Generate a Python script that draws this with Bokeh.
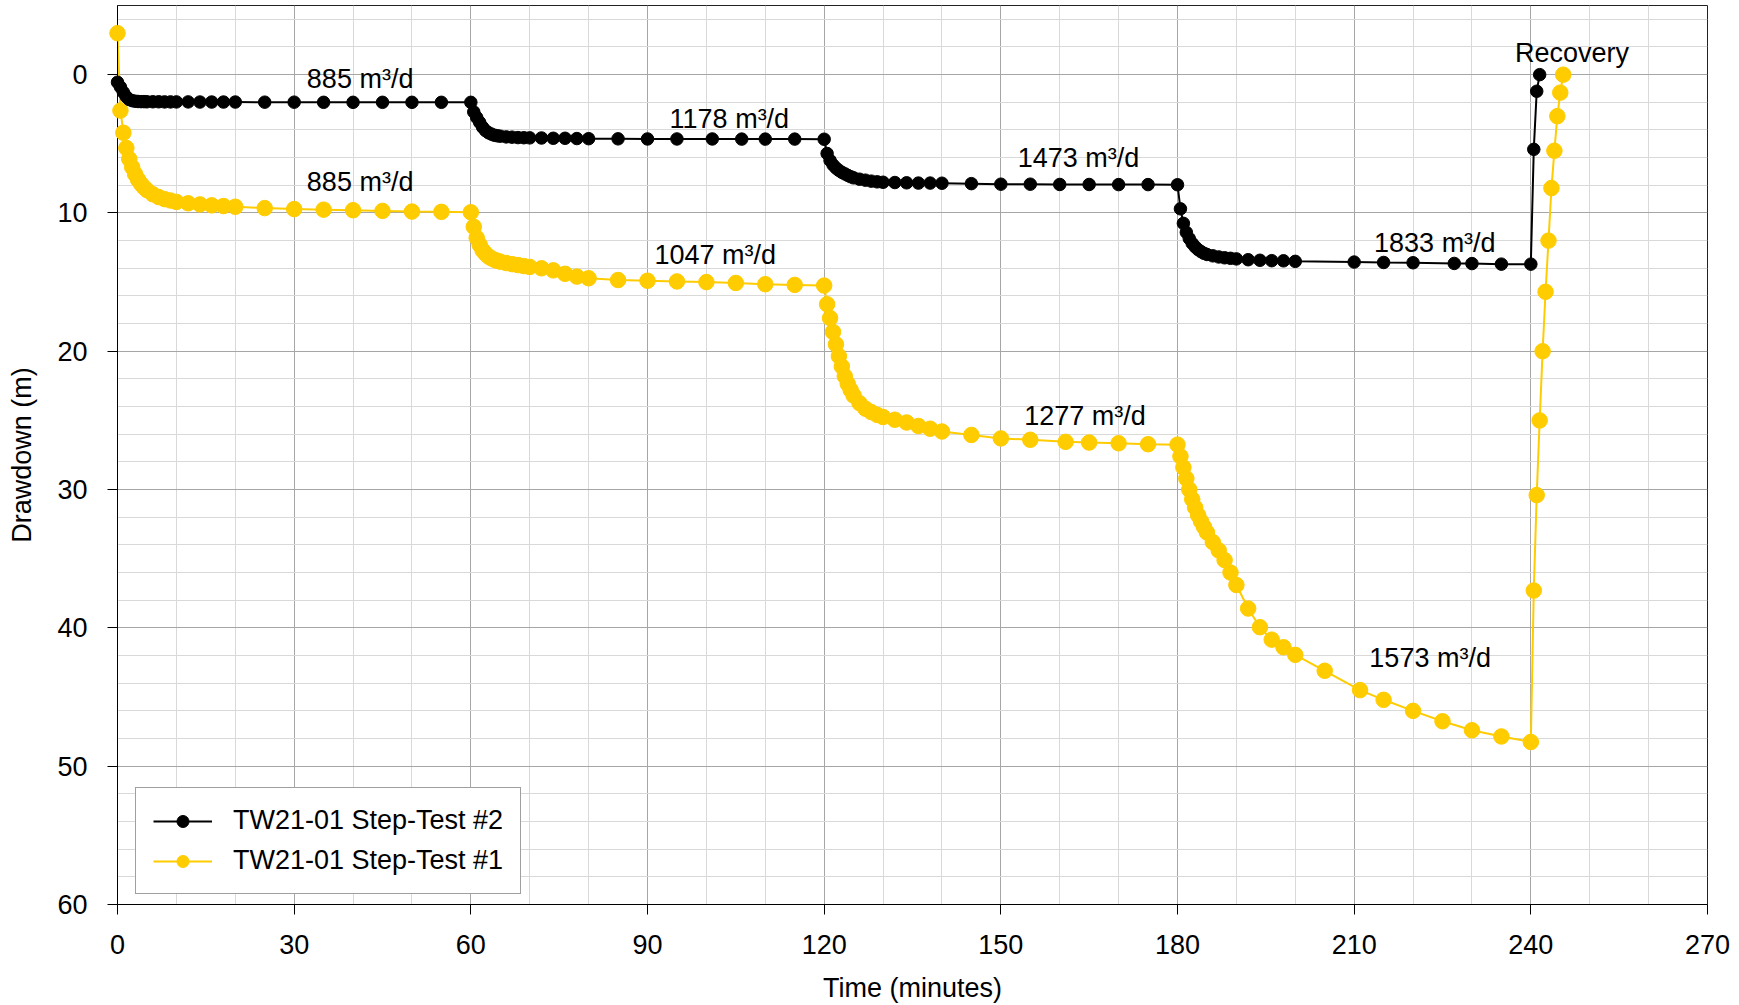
from bokeh.plotting import figure
from bokeh.models import Range1d, FixedTicker, Legend, LegendItem
from bokeh.core.properties import value
from bokeh.embed import file_html
from bokeh.resources import INLINE

FONT = "Liberation Sans"
FSIZE = "27px"

# ---- TW21-01 Step-Test #2 (black) : time (min) and drawdown (m) ----
t_test2 = [0, 0.5, 1, 1.5, 2, 2.5, 3, 3.5, 4, 4.5, 5, 6, 7, 8, 9, 10, 12, 14, 16, 18, 20,
           25, 30, 35, 40, 45, 50, 55, 60,
           60.5, 61, 61.5, 62, 62.5, 63, 63.5, 64, 64.5, 65, 66, 67, 68, 69, 70, 72, 74, 76, 78, 80,
           85, 90, 95, 101, 106, 110, 115, 120,
           120.5, 121, 121.5, 122, 122.5, 123, 123.5, 124, 124.5, 125, 126, 127, 128, 129, 130,
           132, 134, 136, 138, 140, 145, 150, 155, 160, 165, 170, 175, 180,
           180.5, 181, 181.5, 182, 182.5, 183, 183.5, 184, 184.5, 185, 186, 187, 188, 189, 190,
           192, 194, 196, 198, 200, 210, 215, 220, 227, 230, 235, 240,
           240.5, 241, 241.5]
dd_test2 = [0.55, 0.9, 1.28, 1.6, 1.8, 1.88, 1.92, 1.94, 1.95, 1.95, 1.96, 1.96, 1.96, 1.97, 1.97, 1.97,
            1.97, 1.98, 1.98, 1.98, 1.98, 1.99, 1.99, 2.0, 2.0, 2.0, 2.0, 2.0, 2.0,
            2.7, 3.1, 3.45, 3.8, 4.05, 4.2, 4.3, 4.38, 4.42, 4.45, 4.5, 4.52, 4.55, 4.56, 4.57,
            4.58, 4.6, 4.6, 4.62, 4.63, 4.64, 4.65, 4.65, 4.65, 4.66, 4.66, 4.66, 4.67,
            5.7, 6.2, 6.52, 6.75, 6.92, 7.06, 7.17, 7.28, 7.38, 7.46, 7.56, 7.63, 7.7, 7.75, 7.78,
            7.8, 7.82, 7.84, 7.84, 7.85, 7.88, 7.92, 7.92, 7.94, 7.94, 7.95, 7.95, 7.96,
            9.7, 10.75, 11.4, 11.85, 12.2, 12.45, 12.65, 12.8, 12.92, 13.0, 13.1, 13.18, 13.24, 13.28, 13.32,
            13.38, 13.42, 13.45, 13.46, 13.5, 13.55, 13.58, 13.6, 13.65, 13.66, 13.7, 13.7,
            5.4, 1.2, 0.0]

# ---- TW21-01 Step-Test #1 (gold) ----
t_test1 = [0, 0.5, 1, 1.5, 2, 2.5, 3, 3.5, 4, 4.5, 5, 6, 7, 8, 9, 10, 12, 14, 16, 18, 20,
           25, 30, 35, 40, 45, 50, 55, 60,
           60.5, 61, 61.5, 62, 62.5, 63, 63.5, 64, 64.5, 65, 66, 67, 68, 69, 70, 72, 74, 76, 78, 80,
           85, 90, 95, 100, 105, 110, 115, 120,
           120.5, 121, 121.5, 122, 122.5, 123, 123.5, 124, 124.5, 125, 126, 127, 128, 129, 130,
           132, 134, 136, 138, 140, 145, 150, 155, 161, 165, 170, 175, 180,
           180.5, 181, 181.5, 182, 182.5, 183, 183.5, 184, 184.5, 185, 186, 187, 188, 189, 190,
           192, 194, 196, 198, 200, 205, 211, 215, 220, 225, 230, 235, 240,
           240.5, 241, 241.5, 242, 242.5, 243, 243.5, 244, 244.5, 245, 245.5]
dd_test1 = [-3.0, 2.6, 4.2, 5.3, 6.1, 6.7, 7.2, 7.6, 7.9, 8.15, 8.35, 8.65, 8.85, 9.0, 9.1, 9.2,
            9.3, 9.38, 9.45, 9.5, 9.55, 9.65, 9.72, 9.76, 9.8, 9.85, 9.9, 9.92, 9.95,
            11.0, 11.8, 12.3, 12.7, 12.95, 13.15, 13.28, 13.38, 13.46, 13.52, 13.62, 13.7, 13.77, 13.84, 13.9,
            14.0, 14.15, 14.4, 14.6, 14.72, 14.85, 14.9, 14.95, 15.0, 15.06, 15.15, 15.2, 15.25,
            16.6, 17.6, 18.6, 19.5, 20.35, 21.1, 21.8, 22.35, 22.8, 23.2, 23.75, 24.15, 24.4, 24.6, 24.75,
            24.95, 25.15, 25.4, 25.6, 25.8, 26.05, 26.3, 26.4, 26.55, 26.6, 26.65, 26.72, 26.75,
            27.6, 28.4, 29.2, 30.0, 30.7, 31.3, 31.85, 32.3, 32.7, 33.1, 33.8, 34.4, 35.1, 36.0, 36.9,
            38.6, 39.95, 40.85, 41.4, 41.95, 43.1, 44.5, 45.2, 46.0, 46.75, 47.4, 47.85, 48.25,
            37.3, 30.4, 25.0, 20.0, 15.7, 12.0, 8.2, 5.5, 3.0, 1.3, 0.0]

# ---- pumping-rate annotations ----
note_text = ["885 m³/d", "885 m³/d", "1178 m³/d", "1047 m³/d", "1473 m³/d",
             "1277 m³/d", "1833 m³/d", "1573 m³/d", "Recovery"]
note_t = [41.2, 41.2, 103.9, 101.5, 163.2, 164.3, 223.7, 222.9, 247.0]
note_dd = [0.33, 7.73, 3.2, 13.03, 6.02, 24.7, 12.17, 42.17, -1.6]

x_major = [0, 30, 60, 90, 120, 150, 180, 210, 240, 270]
y_major = [0, 10, 20, 30, 40, 50, 60]

BLACK = "#000000"
GOLD = "#FFCC00"

p = figure(width=1739, height=1005,
           x_range=Range1d(0, 270), y_range=Range1d(60, -5),
           output_backend="svg", toolbar_location=None,
           min_border_left=117, min_border_right=32,
           min_border_top=5, min_border_bottom=101)

p.background_fill_color = "white"
p.border_fill_color = "white"
p.outline_line_color = "#222222"
p.outline_line_width = 1

p.xaxis.ticker = FixedTicker(ticks=x_major,
                             minor_ticks=[m for m in range(0, 271, 10) if m not in x_major])
p.yaxis.ticker = FixedTicker(ticks=y_major,
                             minor_ticks=[m for m in range(-4, 61, 2) if m not in y_major])

for g in (p.xgrid, p.ygrid):
    g.grid_line_color = "#a6a6a6"
    g.grid_line_width = 1
    g.minor_grid_line_color = "#d9d9d9"
    g.minor_grid_line_width = 1

for ax in (p.xaxis, p.yaxis):
    ax.axis_line_color = "black"
    ax.axis_line_width = 1
    ax.major_tick_line_color = "black"
    ax.major_tick_out = 10
    ax.major_tick_in = 0
    ax.minor_tick_out = 0
    ax.minor_tick_in = 0
    ax.major_label_text_font = FONT
    ax.major_label_text_font_size = FSIZE
    ax.major_label_text_color = "black"
    ax.major_label_standoff = 20
    ax.axis_label_text_font = FONT
    ax.axis_label_text_font_size = FSIZE
    ax.axis_label_text_font_style = "normal"
    ax.axis_label_text_color = "black"

p.xaxis.axis_label = "Time (minutes)"
p.yaxis.axis_label = "Drawdown (m)"
p.xaxis.axis_label_standoff = 16
p.yaxis.axis_label_standoff = 17

# Step-Test #1 first, Step-Test #2 drawn over it; markers on the overlay
# level so that the points sitting on the axis at t = 0 are not cut off
l1 = p.line(t_test1, dd_test1, line_color=GOLD, line_width=2)
l2 = p.line(t_test2, dd_test2, line_color=BLACK, line_width=2)
s1 = p.scatter(t_test1, dd_test1, size=15.5, fill_color=GOLD, line_color=GOLD, level="overlay")
s2 = p.scatter(t_test2, dd_test2, size=12.5, fill_color=BLACK, line_color=BLACK, level="overlay")

p.text(x=note_t, y=note_dd, text=note_text, text_font=value(FONT),
       text_font_size=FSIZE, text_align="center", text_baseline="middle",
       text_color="black")

legend = Legend(items=[LegendItem(label="TW21-01 Step-Test #2", renderers=[l2, s2]),
                       LegendItem(label="TW21-01 Step-Test #1", renderers=[l1, s1])],
                location=(18, 10), margin=0, padding=17, spacing=9,
                glyph_width=59, glyph_height=30, label_height=30, label_standoff=21,
                label_text_font=FONT, label_text_font_size=FSIZE, label_text_color="black",
                border_line_color="#404040", border_line_width=1,
                background_fill_color="white", background_fill_alpha=1)
p.add_layout(legend)

open("out.html", "w").write(file_html(p, INLINE))
